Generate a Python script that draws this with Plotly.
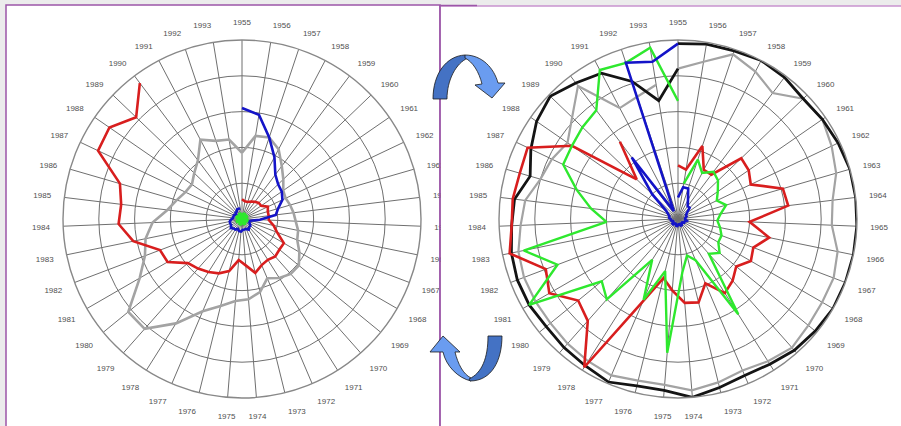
import plotly.graph_objects as go

W, H = 901, 426

years = ["1955", "1956", "1957", "1958", "1959", "1960", "1961", "1962", "1963", "1964",
         "1965", "1966", "1967", "1968", "1969", "1970", "1971", "1972", "1973", "1974",
         "1975", "1976", "1977", "1978", "1979", "1980", "1981", "1982", "1983", "1984",
         "1985", "1986", "1987", "1988", "1989", "1990", "1991", "1992", "1993"]

# ---- left chart series ----
left_red = [11, 10, 10, 11, 12, 13, 13, 16, 15, 15, 15, 18, 21, 27, 27, 28, 27, 28, 31, 26,
            23, 30, 33, 35, 37, 39, 48, 49, 62, 69, 68, 71, 89, 90, 82, 95]
left_gray = [37, 47, 48, 44, 37, 32, 28, 27, 28, 29, 30, 32, 33, 37, 41, 41, 39, 36, 42, 45,
             46, 50, 56, 69, 82, 82, 66, 58, 55, 50, 42, 38, 35, 34, 37, 41, 50, 46, 45]
left_blue = [62, 59, 48, 39, 31, 28, 27, 25, 21, 19, 10, 5, 4, 5, 6, 6, 7, 6, 6, 6,
             7, 7, 6, 7, 7, 8, 7, 7, 7, 6, 5, 5, 5, 4, 5, 5, 6, 6, 6]
left_green = [2, 2, 3, 3, 2, 2, 3, 3, 2, 2, 2, 3, 3, 2, 2, 2, 3, 3, 2, 2,
              2, 3, 3, 2, 2, 2, 3, 3, 2, 2, 2, 3, 3, 2, 2, 2, 3, 3, 2]

# ---- right chart series ----
right_black = [98, 99, 99, 100, 99, 97, 98, 99, 100, 100, 100, 100, 100, 100, 99, 98, 96, 95, 97, 100,
               96, 96, 99, 97, 96, 95, 96, 96, 95, 93, 92, 86, 91, 96, 99, 95, 92, 81, 67]
right_black_end = 84
right_gray = [84, 89, 97, 93, 88, 97, 98, 95, 92, 87, 86, 91, 93, 93, 94, 96, 94, 92, 94, 96,
              93, 93, 95, 94, 93, 92, 92, 92, 91, 88, 86, 80, 78, 75, 82, 93, 70, 72, 76]
right_red = [30, 28, 43, 31, 31, 49, 48, 45, 61, 62, 40, 52, 45, 47, 42, 46, 49, 39, 48, 47,
             40, 34, 50, 98, 76, 72, 83, 79, 96, 93, 93, 92, 93, 72, 32, 54]
right_green = [66, 20, 35, 29, 33, 31, 27, 24, 28, 24, 22, 24, 26, 26, 30, 26, 63, 25, 21, 30,
               75, 30, 49, 27, 60, 55, 96, 72, 88, 40, 49, 59, 71, 72, 74, 76, 94, 92, 97]
right_blue = [12, 18, 18, 12, 9, 9, 6, 5, 5, 4, 4, 5, 4, 4, 3, 3, 4, 4, 3, 3,
              4, 4, 3, 3, 4, 4, 3, 3, 4, 4, 5, 5, 6, 8, 20, 43, 5, 92, 89]
right_blue_end = 98

RED = "#d81e1e"
GRAY = "#a3a3a3"
BLUE = "#1414c8"
GREEN = "#2ee82e"
BLACK = "#141414"


def px(x):
    return x / W


def py(y):
    return 1 - y / H


def tr(r, theta, color, width, sub, fill=None):
    return go.Scatterpolar(r=r, theta=theta, mode="lines", subplot=sub,
                           line=dict(color=color, width=width),
                           fill=fill, fillcolor=color if fill else None,
                           showlegend=False, hoverinfo="skip")


fig = go.Figure()
# left
fig.add_trace(tr(left_gray + left_gray[:1], years + years[:1], GRAY, 2.6, "polar"))
fig.add_trace(tr(left_red, years[:len(left_red)], RED, 2.6, "polar"))
fig.add_trace(tr(left_blue, years, BLUE, 2.6, "polar"))
fig.add_trace(tr(left_green + left_green[:1], years + years[:1], GREEN, 3, "polar", fill="toself"))
# right
fig.add_trace(tr(right_gray, years, GRAY, 2.2, "polar2"))
fig.add_trace(tr(right_black + [right_black_end], years + years[:1], BLACK, 2.8, "polar2"))
fig.add_trace(tr(right_red, years[:len(right_red)], RED, 2.6, "polar2"))
fig.add_trace(tr(right_green[1:] + right_green[:1], years[1:] + years[:1], GREEN, 2.4, "polar2"))
fig.add_trace(tr(right_blue + [right_blue_end], years + years[:1], BLUE, 2.6, "polar2"))

R = 179


def polar_layout(cx, cy):
    return dict(
        domain=dict(x=[px(cx - R), px(cx + R)], y=[py(cy + R), py(cy - R)]),
        bgcolor="rgba(0,0,0,0)",
        radialaxis=dict(range=[0, 100], tickvals=[20, 40, 60, 80, 100], showticklabels=False,
                        ticks="", showline=False, gridcolor="#6f6f6f", gridwidth=1),
        angularaxis=dict(type="category", categoryorder="array", categoryarray=years,
                         rotation=90, direction="clockwise", gridcolor="#6f6f6f", gridwidth=1,
                         showline=True, linecolor="#888888", linewidth=1.4,
                         ticks="outside", ticklen=11, tickcolor="rgba(0,0,0,0)",
                         tickfont=dict(family="Arial, Liberation Sans", size=8, color="#505050")),
    )


shapes = [
    # left panel
    dict(type="rect", xref="paper", yref="paper", x0=px(6), x1=px(440), y0=py(430), y1=py(5),
         fillcolor="white", line=dict(color="#9c56a8", width=1.5), layer="below"),
    # right panel
    dict(type="rect", xref="paper", yref="paper", x0=px(440.8), x1=px(905), y0=py(430), y1=py(6),
         fillcolor="white", line=dict(width=0), layer="below"),
    dict(type="line", xref="paper", yref="paper", x0=px(440), x1=px(901), y0=py(6), y1=py(6),
         line=dict(color="#c993cf", width=1.5), layer="below"),
    dict(type="line", xref="paper", yref="paper", x0=px(440), x1=px(477), y0=py(5.5), y1=py(5.5),
         line=dict(color="#9c56a8", width=1.5), layer="below"),
    # cover of left-chart labels past the panel edge
    dict(type="rect", xref="paper", yref="paper", x0=px(441), x1=px(460), y0=py(300), y1=py(130),
         fillcolor="white", line=dict(width=0), layer="above"),
    dict(type="line", xref="paper", yref="paper", x0=px(440), x1=px(440), y0=py(426), y1=py(5),
         line=dict(color="#9c56a8", width=1.5), layer="above"),
]


def path(segments):
    s = []
    for cmd, pts in segments:
        s.append(cmd + " " + " ".join("%.5f,%.5f" % (px(x), py(y)) for x, y in pts))
    return " ".join(s) + " Z"


# top arrow
dark_top = path([("M", [(433, 99)]), ("C", [(433, 74), (446, 56), (465, 55)]),
                 ("L", [(468, 58)]), ("C", [(456, 63), (447, 80), (447, 99)])])
light_top = path([("M", [(465, 55)]), ("C", [(482, 55), (494, 68), (498, 83)]),
                  ("L", [(505, 83)]), ("L", [(492, 98)]), ("L", [(475, 85)]), ("L", [(482, 84)]),
                  ("C", [(479, 72), (473, 62), (465, 58)])])
# bottom arrow
dark_bot = path([("M", [(488, 336)]), ("L", [(502, 336)]),
                 ("C", [(502, 360), (492, 381), (470, 381)]),
                 ("L", [(469, 379)]), ("C", [(482, 373), (488, 358), (488, 336)])])
light_bot = path([("M", [(471, 381)]), ("C", [(458, 378), (446, 366), (443, 352)]),
                  ("L", [(430, 352)]), ("L", [(443, 336)]), ("L", [(460, 352)]), ("L", [(455, 352)]),
                  ("C", [(458, 364), (463, 374), (471, 378)])])
for p, c in [(dark_top, "#4472c4"), (light_top, "#6a9cf0"), (light_bot, "#6a9cf0"), (dark_bot, "#4472c4")]:
    shapes.append(dict(type="path", xref="paper", yref="paper", path=p, fillcolor=c,
                       line=dict(color="#1a1a1a", width=0.8), layer="above"))

fig.update_layout(
    width=W, height=H, margin=dict(l=0, r=0, t=0, b=0),
    paper_bgcolor="#ececec", plot_bgcolor="white",
    polar=polar_layout(242, 219),
    polar2=polar_layout(678, 219),
    shapes=shapes,
    showlegend=False,
)

fig.write_html("out.html", config={"displayModeBar": False},
               post_script="document.body.style.margin='0';document.body.style.padding='0';"
                           "document.body.style.overflow='hidden';")
